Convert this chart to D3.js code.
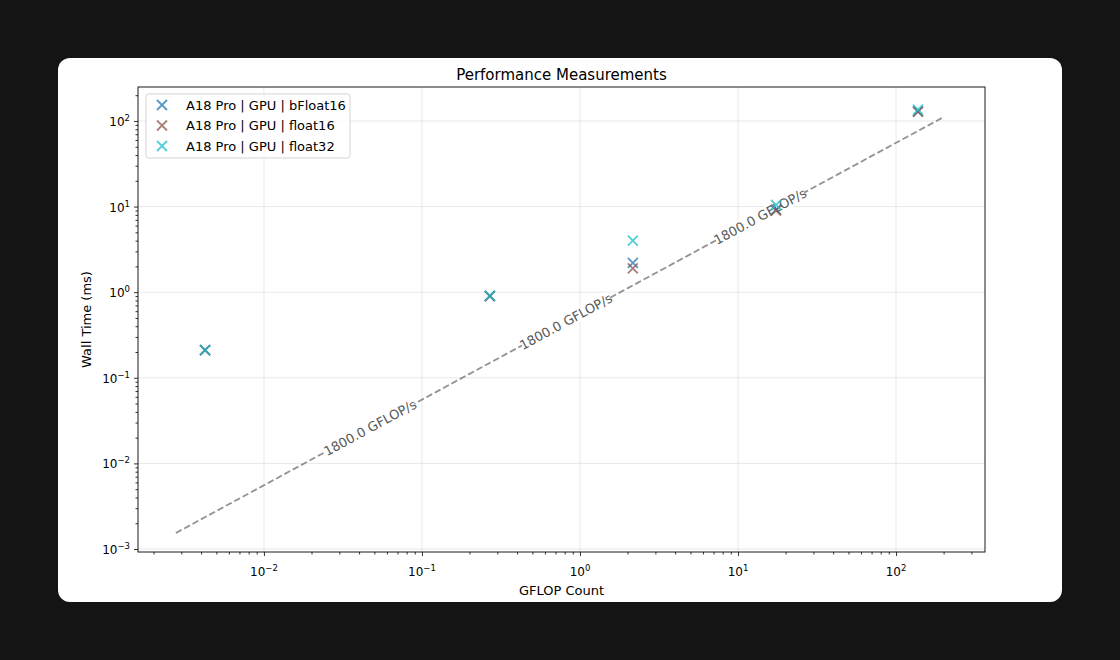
<!DOCTYPE html>
<html>
<head>
<meta charset="utf-8">
<script src="https://cdn.jsdelivr.net/npm/d3@7"></script>
<style>
  body { margin: 0; background: #141414; }
  svg { display: block; font-family: "DejaVu Sans", sans-serif; }
</style>
</head>
<body>
<div id="chart"></div>
<script>
// measured points (GFLOP, ms)
var gflops = [0.00424, 0.269, 2.16, 17.4, 137.7];
var bfloat16 = [0.21, 0.90, 2.2, 9.2, 129];
var float16 = [0.21, 0.90, 1.9, 9.0, 129];
var float32 = [0.21, 0.91, 4.0, 10.5, 136];
var seriesNames = ["A18 Pro | GPU | bFloat16", "A18 Pro | GPU | float16", "A18 Pro | GPU | float32"];
var seriesColors = ["#1f77b4", "#8c564b", "#17becf"];

// roofline
var peak = 1800; // GFLOP/s
var lineRange = [0.00277, 198];
var labelAt = [0.047, 0.815, 13.8];

var xDomain = [10 ** -2.797, 10 ** 2.563];
var yDomain = [10 ** -3.035, 10 ** 2.397];
var xTicks = [-2, -1, 0, 1, 2];
var yTicks = [-3, -2, -1, 0, 1, 2];

var W = 1120, H = 660;
var margin = { top: 87, right: 135, bottom: 108, left: 138 },
    width = W - margin.left - margin.right,
    height = H - margin.top - margin.bottom;

var root = d3.select("#chart").append("svg")
    .attr("width", W)
    .attr("height", H);

// white card
root.append("rect")
    .attr("x", 58).attr("y", 58)
    .attr("width", 1004).attr("height", 544)
    .attr("rx", 12)
    .attr("fill", "#fff");

var svg = root.append("g")
    .attr("transform", "translate(" + margin.left + "," + margin.top + ")");

var x = d3.scaleLog().domain(xDomain).range([0, width]);
var y = d3.scaleLog().domain(yDomain).range([height, 0]);

// minor ticks
function minors(dom) {
    var out = [];
    for (var e = Math.floor(Math.log10(dom[0])); e <= Math.ceil(Math.log10(dom[1])); e++) {
        for (var m = 2; m <= 9; m++) {
            var v = m * Math.pow(10, e);
            if (v >= dom[0] && v <= dom[1]) out.push(v);
        }
    }
    return out;
}

// grid
svg.append("g").selectAll("line")
    .data(xTicks)
    .enter().append("line")
    .attr("x1", d => x(10 ** d)).attr("x2", d => x(10 ** d))
    .attr("y1", 0).attr("y2", height)
    .attr("stroke", "#b0b0b0").attr("stroke-opacity", 0.35).attr("stroke-width", 0.8);
svg.append("g").selectAll("line")
    .data(yTicks)
    .enter().append("line")
    .attr("y1", d => y(10 ** d)).attr("y2", d => y(10 ** d))
    .attr("x1", 0).attr("x2", width)
    .attr("stroke", "#b0b0b0").attr("stroke-opacity", 0.35).attr("stroke-width", 0.8);

// axes
var xAxis = svg.append("g")
    .attr("transform", "translate(0," + height + ")")
    .call(d3.axisBottom(x).tickValues(xTicks.map(d => 10 ** d)).tickSize(4).tickFormat(""));
xAxis.append("g")
    .call(d3.axisBottom(x).tickValues(minors(xDomain)).tickSize(2.5).tickFormat(""));
var yAxis = svg.append("g")
    .call(d3.axisLeft(y).tickValues(yTicks.map(d => 10 ** d)).tickSize(4).tickFormat(""));
yAxis.append("g")
    .call(d3.axisLeft(y).tickValues(minors(yDomain)).tickSize(2.5).tickFormat(""));
svg.selectAll(".domain").attr("stroke", "none");
svg.selectAll(".tick line").attr("stroke", "#000").attr("stroke-width", 0.8);

// tick labels with superscripts
function powLabel(sel) {
    sel.append("tspan").text("10");
    sel.append("tspan")
        .attr("dy", -5)
        .style("font-size", "8.5px")
        .text(d => (d < 0 ? "\u2212" : "") + Math.abs(d));
}
svg.append("g").selectAll("text")
    .data(xTicks)
    .enter().append("text")
    .attr("x", d => x(10 ** d))
    .attr("y", height + 24)
    .attr("text-anchor", "middle")
    .style("font-size", "12px")
    .call(powLabel);
svg.append("g").selectAll("text")
    .data(yTicks)
    .enter().append("text")
    .attr("x", -8)
    .attr("y", d => y(10 ** d) + 5)
    .attr("text-anchor", "end")
    .style("font-size", "12px")
    .call(powLabel);

// frame
svg.append("rect")
    .attr("width", width).attr("height", height)
    .attr("fill", "none").attr("stroke", "#000").attr("stroke-width", 0.9);

// roofline dashed line
var rate = t => t / peak * 1000;
svg.append("line")
    .attr("x1", x(lineRange[0])).attr("y1", y(rate(lineRange[0])))
    .attr("x2", x(lineRange[1])).attr("y2", y(rate(lineRange[1])))
    .attr("stroke", "#7f7f7f").attr("stroke-opacity", 0.85)
    .attr("stroke-width", 1.8).attr("stroke-dasharray", "6.5,3");

// label angle: one decade in x gives one decade in y
var ang = -Math.atan((y(1) - y(10)) / (x(10) - x(1))) * 180 / Math.PI;

var lbl = svg.append("g").selectAll("g")
    .data(labelAt)
    .enter().append("g")
    .attr("transform", d => "translate(" + x(d) + "," + y(rate(d)) + ") rotate(" + ang + ")");
lbl.append("rect")
    .attr("x", -50).attr("y", -7).attr("width", 100).attr("height", 14)
    .attr("fill", "#fff");
lbl.append("text")
    .attr("text-anchor", "middle")
    .attr("dy", "0.35em")
    .attr("fill", "#595959")
    .style("font-size", "13px")
    .text(peak.toFixed(1) + " GFLOP/s");

// markers
var allSeries = [bfloat16, float16, float32];
function cross(g, color) {
    var s = 5;
    g.append("path")
        .attr("d", "M" + (-s) + "," + (-s) + "L" + s + "," + s + "M" + (-s) + "," + s + "L" + s + "," + (-s))
        .attr("stroke", color).attr("stroke-width", 1.8)
        .attr("stroke-opacity", 0.75).attr("fill", "none");
}
allSeries.forEach(function(vals, i) {
    var pts = svg.append("g").selectAll("g")
        .data(vals)
        .enter().append("g")
        .attr("transform", (d, j) => "translate(" + x(gflops[j]) + "," + y(d) + ")");
    pts.each(function() { cross(d3.select(this), seriesColors[i]); });
});

// legend
var leg = svg.append("g").attr("transform", "translate(8,7)");
leg.append("rect")
    .attr("width", 204).attr("height", 64).attr("rx", 2.5)
    .attr("fill", "#fff").attr("fill-opacity", 0.8)
    .attr("stroke", "#d0d0d0").attr("stroke-width", 0.9);
seriesNames.forEach(function(name, i) {
    var row = leg.append("g").attr("transform", "translate(0," + (11 + i * 20.5) + ")");
    var m = row.append("g").attr("transform", "translate(16,0)");
    cross(m, seriesColors[i]);
    row.append("text")
        .attr("x", 40).attr("dy", "0.35em")
        .style("font-size", "13px")
        .text(name);
});

// title and axis labels
svg.append("text")
    .attr("x", width / 2).attr("y", -7)
    .attr("text-anchor", "middle")
    .style("font-size", "15px")
    .text("Performance Measurements");
svg.append("text")
    .attr("x", width / 2).attr("y", height + 43)
    .attr("text-anchor", "middle")
    .style("font-size", "13px")
    .text("GFLOP Count");
svg.append("text")
    .attr("transform", "translate(-47," + (height / 2) + ") rotate(-90)")
    .attr("text-anchor", "middle")
    .style("font-size", "13px")
    .text("Wall Time (ms)");
</script>
</body>
</html>
